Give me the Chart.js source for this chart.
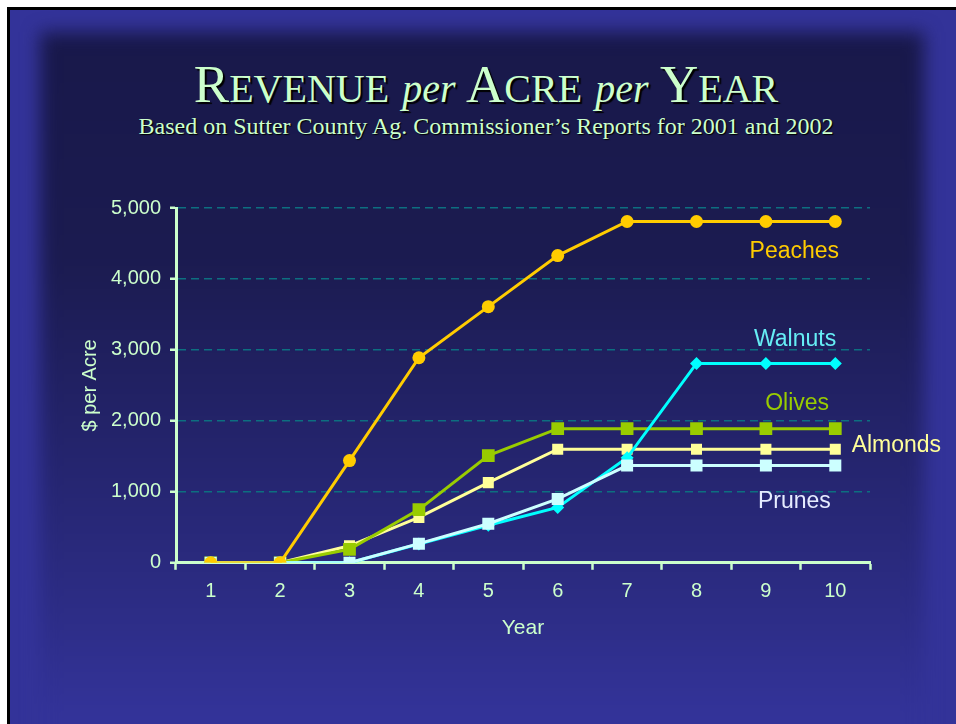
<!DOCTYPE html>
<html>
<head>
<meta charset="utf-8">
<script src="https://cdn.jsdelivr.net/npm/chart.js@4"></script>
<style>
  html, body { margin:0; padding:0; background:#ffffff; width:956px; height:724px; overflow:hidden; }
  #frame { position:absolute; left:7px; top:7px; width:949px; height:717px; background:#000; }
  #slide { position:absolute; left:10px; top:10px; width:946px; height:714px; background:#333399; overflow:hidden; }
  #inner { position:absolute; left:30px; top:22px; width:884px; height:760px;
           background:linear-gradient(to bottom, #18184a 0%, #1b1b50 30%, #252570 58%, #2c2c84 75%, #333399 90%);
           filter:blur(9px); }
  #title { position:absolute; left:8px; top:59px; width:956px; text-align:center;
           font-family:'Liberation Serif','Times New Roman',serif; font-size:53px; line-height:51px;
           color:#ccffcc; text-shadow:2px 2px 1px #000000; white-space:nowrap; }
  #title .sc { font-size:40px; }
  #title i { font-size:40px; }
  #subtitle { position:absolute; left:8px; top:114px; width:956px; text-align:center;
           font-family:'Liberation Serif','Times New Roman',serif; font-size:24px; line-height:24px;
           color:#ccffcc; text-shadow:1px 1px 1px #000000; white-space:nowrap; }
  #c { position:absolute; left:0; top:0; }
</style>
</head>
<body>
<div id="frame"></div>
<div id="slide"><div id="inner"></div></div>
<div id="title">R<span class="sc">EVENUE</span> <i>per</i> A<span class="sc">CRE</span> <i>per</i> Y<span class="sc">EAR</span></div>
<div id="subtitle">Based on Sutter County Ag. Commissioner’s Reports for 2001 and 2002</div>
<canvas id="c" width="956" height="724"></canvas>
<script>
const years = ['1','2','3','4','5','6','7','8','9','10'];
const peaches = [0, 0, 1440, 2890, 3610, 4330, 4810, 4810, 4810, 4810];
const walnuts = [0, 0, 0, 265, 530, 780, 1480, 2810, 2810, 2810];
const olives  = [0, 0, 190, 750, 1510, 1890, 1890, 1890, 1890, 1890];
const almonds = [0, 0, 240, 640, 1130, 1600, 1600, 1600, 1600, 1600];
const prunes  = [0, 0, 0, 270, 550, 900, 1370, 1370, 1370, 1370];
const yTicks = [0, 1000, 2000, 3000, 4000, 5000];

// series labels: [text, x (category index), y (value), colour]
const seriesLabels = [
  ['Peaches', 8.41, 4380, '#ffcc00'],
  ['Walnuts', 8.42, 3150, '#66eef5'],
  ['Olives',  8.45, 2240, '#99cc00'],
  ['Almonds', 9.88, 1650, '#ffff99'],
  ['Prunes',  8.41, 860,  '#e6ecff']
];

const labelPlugin = {
  id: 'seriesLabels',
  afterDatasetsDraw(chart) {
    const {ctx, scales} = chart;
    ctx.save();
    ctx.font = '23px "Liberation Sans", Arial, sans-serif';
    ctx.textAlign = 'center';
    ctx.textBaseline = 'middle';
    seriesLabels.forEach(([t, xi, yv, col]) => {
      ctx.fillStyle = col;
      ctx.fillText(t, scales.x.getPixelForValue(xi), scales.y.getPixelForValue(yv));
    });
    ctx.restore();
  }
};

const axisCol = '#ccffcc';
const tickFont = {family:'"Liberation Sans", Arial, sans-serif', size:20};

new Chart(document.getElementById('c'), {
  type: 'line',
  data: {
    labels: years,
    datasets: [
      {label:'Peaches', data:peaches, borderColor:'#ffcc00', backgroundColor:'#ffcc00', borderWidth:3,
       pointStyle:'circle', pointRadius:6.5, pointBorderWidth:0},
      {label:'Prunes', data:prunes, borderColor:'#ccffff', backgroundColor:'#ccffff', borderWidth:3,
       pointStyle:'rect', pointRadius:8.5, pointBorderWidth:0},
      {label:'Walnuts', data:walnuts, borderColor:'#00ffff', backgroundColor:'#00ffff', borderWidth:3,
       pointStyle:'rectRot', pointRadius:6.5, pointBorderWidth:0},
      {label:'Olives', data:olives, borderColor:'#99cc00', backgroundColor:'#99cc00', borderWidth:3,
       pointStyle:'rect', pointRadius:9, pointBorderWidth:0},
      {label:'Almonds', data:almonds, borderColor:'#ffff99', backgroundColor:'#ffff99', borderWidth:3,
       pointStyle:'rect', pointRadius:7.8, pointBorderWidth:0}
    ]
  },
  options: {
    responsive:false,
    devicePixelRatio:1,
    animation:false,
    events:[],
    layout:{padding:{left:78, right:86, top:208, bottom:83}},
    plugins:{legend:{display:false}, tooltip:{enabled:false}, title:{display:false}},
    elements:{line:{tension:0}},
    scales:{
      x:{
        type:'category',
        offset:true,
        grid:{display:true, drawOnChartArea:false, drawTicks:true, offset:true,
              tickLength:7, tickColor:axisCol, tickWidth:2.5, color:axisCol},
        border:{display:true, color:axisCol, width:3},
        ticks:{color:axisCol, font:tickFont, padding:10, maxRotation:0, autoSkip:false},
        title:{display:true, text:'Year', color:axisCol,
               font:{family:'"Liberation Sans", Arial, sans-serif', size:21}, padding:{top:2, bottom:0}}
      },
      y:{
        min:0, max:5000,
        afterBuildTicks(scale){ scale.ticks = yTicks.map(v => ({value:v})); },
        afterFit(scale){ scale.width = 98; },
        grid:{color:(c) => (c.tick && c.tick.value === 0) ? 'rgba(0,0,0,0)' : '#0d6f80',
              lineWidth:1.5, drawTicks:true, tickLength:6, tickColor:axisCol, tickWidth:2.5, tickBorderDash:[]},
        border:{display:true, color:axisCol, width:3, dash:[8,5]},
        ticks:{color:axisCol, font:tickFont, padding:9,
               callback:(v) => Number(v).toLocaleString('en-US')},
        title:{display:true, text:'$ per Acre', color:axisCol,
               font:{family:'"Liberation Sans", Arial, sans-serif', size:20}, padding:{top:0, bottom:0}}
      }
    }
  },
  plugins:[labelPlugin]
});
</script>
</body>
</html>
